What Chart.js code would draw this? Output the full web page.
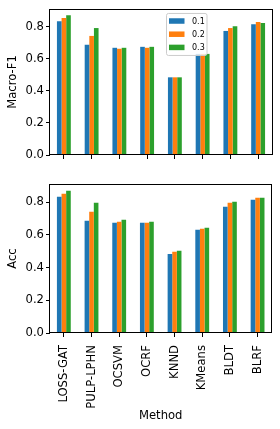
<!DOCTYPE html>
<html>
<head>
<meta charset="utf-8">
<script src="https://cdn.jsdelivr.net/npm/chart.js@4/dist/chart.umd.min.js"></script>
<style>
  body { margin: 0; background: #fff; }
  canvas { display: block; }
</style>
</head>
<body>
<canvas id="f1Chart" width="280" height="170"></canvas>
<canvas id="accChart" width="280" height="259"></canvas>
<script>
const methods = ["LOSS-GAT", "PULP-LPHN", "OCSVM", "OCRF", "KNND", "KMeans", "BLDT", "BLRF"];
const ratios = ["0.1", "0.2", "0.3"];
const colors = ["#1f77b4", "#ff7f0e", "#2ca02c"];

const f1_01 = [0.834, 0.687, 0.668, 0.674, 0.484, 0.630, 0.773, 0.815];
const f1_02 = [0.854, 0.742, 0.662, 0.668, 0.484, 0.630, 0.791, 0.828];
const f1_03 = [0.871, 0.791, 0.668, 0.674, 0.484, 0.630, 0.803, 0.822];

const acc_01 = [0.832, 0.685, 0.673, 0.673, 0.483, 0.630, 0.771, 0.814];
const acc_02 = [0.851, 0.741, 0.679, 0.673, 0.496, 0.636, 0.796, 0.826];
const acc_03 = [0.869, 0.796, 0.692, 0.679, 0.502, 0.643, 0.802, 0.826];

const yTicks = [0, 0.2, 0.4, 0.6, 0.8];
const yMax = 0.91;

Chart.defaults.font.family = "DejaVu Sans";
Chart.defaults.color = "#000";

// matplotlib style box around the plot area
const frame = {
  id: "frame",
  afterDraw(chart) {
    const { ctx, chartArea: a } = chart;
    ctx.save();
    ctx.strokeStyle = "#000";
    ctx.lineWidth = 1;
    ctx.strokeRect(Math.round(a.left) - 0.5, Math.round(a.top) + 0.5,
      Math.round(a.right - a.left) + 1, Math.round(a.bottom - a.top) - 1);
    ctx.restore();
  }
};

// legend drawn inside the axes like matplotlib
const boxLegend = {
  id: "boxLegend",
  afterDraw(chart) {
    const { ctx, chartArea: a } = chart;
    const x = a.left + 116.5, y = a.top + 4.5, w = 40.5, h = 42;
    ctx.save();
    ctx.beginPath();
    ctx.roundRect(x, y, w, h, 2);
    ctx.fillStyle = "rgba(255,255,255,0.8)";
    ctx.fill();
    ctx.strokeStyle = "#cccccc";
    ctx.lineWidth = 1;
    ctx.stroke();
    ctx.font = "8px 'DejaVu Sans'";
    ctx.textBaseline = "middle";
    chart.data.datasets.forEach((ds, i) => {
      const cy = y + 7.5 + i * 13.2;
      ctx.fillStyle = ds.backgroundColor;
      ctx.fillRect(x + 2.5, cy - 2.7, 15.5, 5.5);
      ctx.fillStyle = "#000";
      ctx.fillText(ds.label, x + 25.5, cy + 0.5);
    });
    ctx.restore();
  }
};

function makeDatasets(series) {
  return series.map((vals, i) => ({
    label: ratios[i],
    data: vals,
    backgroundColor: colors[i],
    borderWidth: 0,
    categoryPercentage: 0.5,
    barPercentage: 1.0
  }));
}

function yAxis(title) {
  return {
    min: 0,
    max: yMax,
    afterFit: s => { s.width = 50; },
    afterBuildTicks: s => { s.ticks = yTicks.map(v => ({ value: v })); },
    ticks: {
      font: { size: 11.6 },
      padding: 2,
      callback: v => v.toFixed(1)
    },
    grid: { display: true, drawOnChartArea: false, drawTicks: true, tickLength: 4, color: "#000" },
    border: { display: false },
    title: { display: true, text: title, font: { size: 11.6 }, padding: { top: 6, bottom: 0 } }
  };
}

new Chart(document.getElementById("f1Chart"), {
  type: "bar",
  data: { labels: methods, datasets: makeDatasets([f1_01, f1_02, f1_03]) },
  options: {
    responsive: false,
    animation: false,
    layout: { padding: { top: 6, right: 8, left: 0, bottom: 0 } },
    plugins: { legend: { display: false }, tooltip: { enabled: false } },
    scales: {
      x: {
        afterFit: s => { s.height = 15; },
        ticks: { callback: () => "" },
        grid: { display: true, offset: false, drawOnChartArea: false, drawTicks: true, tickLength: 4, color: "#000" },
        border: { display: false }
      },
      y: yAxis("Macro-F1")
    }
  },
  plugins: [frame, boxLegend]
});

new Chart(document.getElementById("accChart"), {
  type: "bar",
  data: { labels: methods, datasets: makeDatasets([acc_01, acc_02, acc_03]) },
  options: {
    responsive: false,
    animation: false,
    layout: { padding: { top: 14, right: 8, left: 0, bottom: 0 } },
    plugins: { legend: { display: false }, tooltip: { enabled: false } },
    scales: {
      x: {
        afterFit: s => { s.height = 96; },
        ticks: { font: { size: 11.6 }, minRotation: 90, maxRotation: 90, padding: 8, autoSkip: false },
        grid: { display: true, offset: false, drawOnChartArea: false, drawTicks: true, tickLength: 4, color: "#000" },
        border: { display: false },
        title: { display: true, text: "Method", font: { size: 11.6 }, padding: { top: 0, bottom: 6.5 } }
      },
      y: yAxis("Acc")
    }
  },
  plugins: [frame]
});
</script>
</body>
</html>
